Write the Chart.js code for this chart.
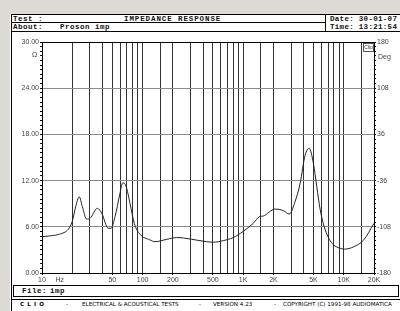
<!DOCTYPE html>
<html>
<head>
<meta charset="utf-8">
<script src="https://cdn.jsdelivr.net/npm/chart.js@4"></script>
<style>
  body { margin: 0; width: 400px; height: 311px; overflow: hidden; position: relative; background: #dcdad4; }
  #panel { position: absolute; left: 10px; top: 14px; width: 390px; height: 297px; background: #fff; }
  .ln { position: absolute; background: #000; }
  .t { position: absolute; white-space: pre; font-family: "Liberation Mono", monospace; font-size: 7.5px; font-weight: bold; color: #111; line-height: 8px; letter-spacing: 0.5px; }
  .f { position: absolute; white-space: pre; font-family: "DejaVu Sans", sans-serif; font-size: 5.6px; color: #000; line-height: 7px; }
  .s { position: absolute; white-space: pre; font-family: "Liberation Sans", sans-serif; font-size: 7px; color: #444; line-height: 8px; }
  #chart { position: absolute; left: 10px; top: 34px; }
  #filebox { position: absolute; left: 13px; top: 285px; width: 384px; height: 10px; border: 1px solid #000; }
  #logo { position: absolute; left: 363px; top: 43px; width: 9px; height: 7px; border: 1px solid #555; font-family: "Liberation Sans", sans-serif; font-size: 5px; line-height: 7px; color: #333; text-align: center; }
</style>
</head>
<body>
<div id="panel"></div>
<div class="ln" style="left:11px;top:14px;width:1px;height:297px"></div>
<div class="ln" style="left:11px;top:14px;width:389px;height:1px"></div>
<div class="ln" style="left:11px;top:22px;width:314px;height:1px"></div>
<div class="ln" style="left:11px;top:31px;width:389px;height:1px"></div>
<div class="ln" style="left:325px;top:14px;width:1px;height:18px"></div>
<div class="ln" style="left:11px;top:299px;width:389px;height:1px"></div>

<div class="t" style="left:13px;top:14.5px">Test :</div>
<div class="t" style="left:124px;top:14.5px;letter-spacing:0.9px">IMPEDANCE RESPONSE</div>
<div class="t" style="left:13px;top:23px">About:</div>
<div class="t" style="left:60px;top:23px">Proson imp</div>
<div class="t" style="left:330px;top:14.5px;letter-spacing:0.3px">Date: 30-01-07</div>
<div class="t" style="left:330px;top:23px;letter-spacing:0.3px">Time: 13:21:54</div>

<canvas id="chart" width="390" height="251"></canvas>

<div class="s" style="left:32px;top:51px">Ω</div>
<div class="s" style="left:378px;top:53px">Deg</div>
<div id="logo">Clio</div>

<div id="filebox"></div>
<div class="t" style="left:22px;top:287px">File:</div>
<div class="t" style="left:50px;top:287px">imp</div>

<div class="f" style="left:20px;top:301px;font-weight:bold;letter-spacing:0.6px">C L I O</div>
<div class="f" style="left:66px;top:301px">-</div>
<div class="f" style="left:82px;top:301px">ELECTRICAL &amp; ACOUSTICAL TESTS</div>
<div class="f" style="left:199px;top:301px">-</div>
<div class="f" style="left:213px;top:301px">VERSION 4.23</div>
<div class="f" style="left:274px;top:301px">-</div>
<div class="f" style="left:283px;top:301px">COPYRIGHT (C) 1991-98 AUDIOMATICA</div>

<script>
// impedance curve (Hz, ohm)
const freqs = [10, 12.5, 15, 18.3, 20, 21.6, 23.5, 25.2, 27.8, 30, 35.5, 39.3, 45.6, 48.5, 53.2,
  59.6, 63.4, 68.4, 75, 82.7, 94, 118, 133, 174, 218, 254, 372, 504, 634, 797,
  1000, 1260, 1445, 1585, 2070, 2510, 2880, 3280, 3680, 4130, 4530, 5000, 5400, 5840, 6550,
  7650, 9260, 10140, 12560, 15830, 20000];
const impedance = [4.7, 4.85, 5.05, 5.7, 6.7, 8.6, 9.9, 8.6, 7.0, 7.1, 8.4, 7.75, 5.8, 5.8, 7.3,
  10.35, 11.7, 11.3, 9.05, 6.45, 5.05, 4.3, 4.07, 4.37, 4.6, 4.55, 4.2, 4.0, 4.2, 4.6,
  5.4, 6.45, 7.3, 7.4, 8.3, 8.1, 7.66, 9.26, 11.6, 15.3, 16.2, 14.2, 11.2, 8.2, 5.6,
  3.86, 3.2, 3.1, 3.4, 4.3, 6.45];

// axes
const xGridValues = [10, 20, 30, 40, 50, 60, 70, 80, 90, 100, 150, 200, 300, 400, 500, 600, 700, 800, 900,
  1000, 1500, 2000, 3000, 4000, 5000, 6000, 7000, 8000, 9000, 10000, 15000, 20000];
const xTickValues = [10, 15, 50, 100, 200, 500, 1000, 2000, 5000, 10000, 20000];
const xTickLabels = ['10', 'Hz', '50', '100', '200', '500', '1K', '2K', '5K', '10K', '20K'];
const yTickValues = [0, 6, 12, 18, 24, 30];
const yTickLabels = ['0.00', '6.00', '12.00', '18.00', '24.00', '30.00'];
const phaseTickValues = [-180, -108, -36, 36, 108, 180];
const phaseTickLabels = ['-180', '-108', '-36', '36', '108', '180'];

const xTicks = xGridValues.concat([15]).sort((a, b) => a - b);
const yMinor = [];
for (let i = 0; i <= 50; i++) yMinor.push(i * 0.6);
const phaseMinor = [];
for (let i = 0; i <= 50; i++) phaseMinor.push(-180 + i * 7.2);

const near = (list, v) => list.findIndex(t => Math.abs(t - v) < 1e-6);
const tickFont = { family: 'Liberation Sans', size: 7 };
const clear = 'rgba(0,0,0,0)';

new Chart(document.getElementById('chart').getContext('2d'), {
  type: 'line',
  data: {
    datasets: [{
      data: freqs.map((f, i) => ({ x: f, y: impedance[i] })),
      borderColor: '#222',
      borderWidth: 1,
      pointRadius: 0,
      cubicInterpolationMode: 'monotone',
      fill: false
    }]
  },
  options: {
    responsive: false,
    animation: false,
    devicePixelRatio: 1,
    layout: { padding: { top: 8, left: 0, right: 0, bottom: 0 } },
    plugins: { legend: { display: false }, tooltip: { enabled: false } },
    scales: {
      x: {
        type: 'logarithmic',
        min: 10,
        max: 20000,
        afterBuildTicks: s => { s.ticks = xTicks.map(v => ({ value: v })); },
        afterFit: s => { s.height = 12; s.paddingLeft = 0; s.paddingRight = 0; },
        ticks: {
          autoSkip: false, maxRotation: 0, padding: 1, color: '#444', font: tickFont,
          callback: v => { const i = near(xTickValues, v); return i < 0 ? '' : xTickLabels[i]; }
        },
        grid: {
          color: c => (c.tick && c.tick.value === 15 ? clear : '#333'),
          tickColor: c => (c.tick && near(xTickValues, c.tick.value) >= 0 && c.tick.value !== 15 ? '#000' : clear),
          tickLength: 2,
          lineWidth: 1
        },
        border: { color: '#000' }
      },
      y: {
        position: 'left',
        min: 0,
        max: 30,
        afterBuildTicks: s => { s.ticks = yMinor.map(v => ({ value: v })); },
        afterFit: s => { s.width = 32; s.paddingTop = 0; s.paddingBottom = 0; },
        ticks: {
          autoSkip: false, padding: 1, color: '#444', font: tickFont,
          callback: v => { const i = near(yTickValues, v); return i < 0 ? '' : yTickLabels[i]; }
        },
        grid: {
          color: c => {
            const v = c.tick ? c.tick.value : 0;
            if (Math.abs(v - 30) < 1e-6) return '#000';
            return near(yTickValues, v) >= 0 ? '#8c8c8c' : clear;
          },
          tickColor: '#000',
          tickLength: 2
        },
        border: { color: '#000' }
      },
      y2: {
        position: 'right',
        min: -180,
        max: 180,
        afterBuildTicks: s => { s.ticks = phaseMinor.map(v => ({ value: v })); },
        afterFit: s => { s.width = 26; s.paddingTop = 0; s.paddingBottom = 0; },
        ticks: {
          autoSkip: false, padding: 1, color: '#444', font: tickFont,
          callback: v => { const i = near(phaseTickValues, v); return i < 0 ? '' : phaseTickLabels[i]; }
        },
        grid: { drawOnChartArea: false, tickColor: '#000', tickLength: 2 },
        border: { color: '#000' }
      }
    }
  }
});
</script>
</body>
</html>
